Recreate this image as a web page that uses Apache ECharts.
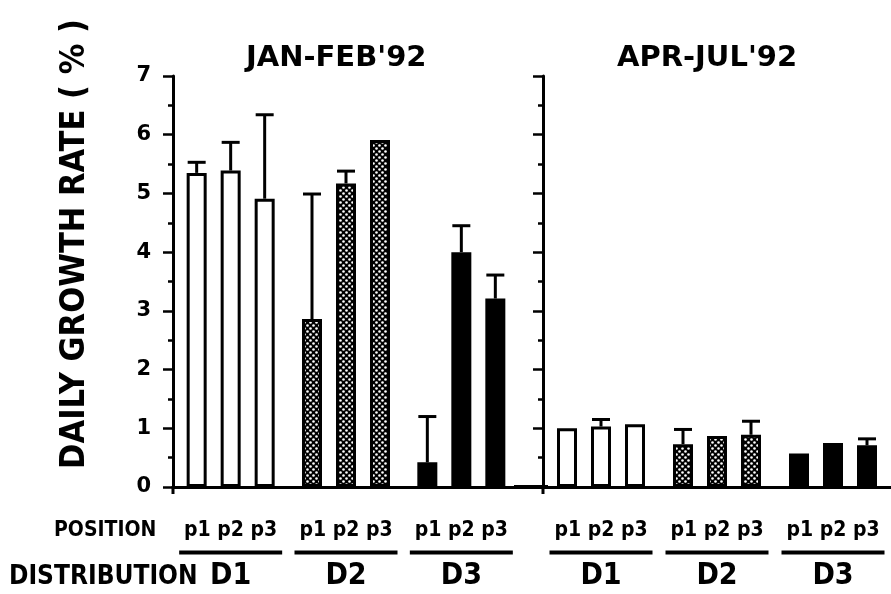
<!DOCTYPE html>
<html><head><meta charset="utf-8">
<script src="https://cdn.jsdelivr.net/npm/echarts@6/dist/echarts.min.js"></script>
<style>html,body{margin:0;padding:0;background:#fff}#c{width:891px;height:594px}</style>
</head><body><div id="c"></div>
<script>
// ---- data ----
const groups = ['D1', 'D2', 'D3'];
const positions = ['p1', 'p2', 'p3'];
const panelTitles = ["JAN-FEB'92", "APR-JUL'92"];
const yName = 'DAILY GROWTH RATE ( % )';
// JAN-FEB'92: values per position, indexed by distribution D1,D2,D3
const janP1 = [5.35, 2.86, 0.42];
const janP2 = [5.39, 5.17, 4.00];
const janP3 = [4.91, 5.91, 3.21];
const janP1Err = [0.18, 2.13, 0.78];
const janP2Err = [0.48, 0.21, 0.45];
const janP3Err = [1.43, 0, 0.40];
// APR-JUL'92
const aprP1 = [1.00, 0.73, 0.57];
const aprP2 = [1.03, 0.87, 0.75];
const aprP3 = [1.07, 0.89, 0.71];
const aprP1Err = [0, 0.25, 0];
const aprP2Err = [0.12, 0, 0];
const aprP3Err = [0, 0.23, 0.11];

// ---- styles ----
const FONT = 'DejaVu Sans';
const FONTC = 'DejaVu Sans Condensed';
const BAR_W = 20, BAR_GAP = 0.7;
function dotPattern() {
  const c = document.createElement('canvas');
  c.width = 6; c.height = 6;
  const g = c.getContext('2d');
  g.fillStyle = '#000'; g.fillRect(0, 0, 6, 6);
  g.fillStyle = '#fff';
  g.beginPath(); g.arc(1.5, 1.5, 1.3, 0, Math.PI * 2); g.fill();
  g.beginPath(); g.arc(4.5, 4.5, 1.3, 0, Math.PI * 2); g.fill();
  return c;
}
const fills = ['#ffffff', { image: dotPattern(), repeat: 'repeat' }, '#000000'];

const chart = echarts.init(document.getElementById('c'));

function barSeries(vals, gi) {
  return {
    type: 'bar', xAxisIndex: gi, yAxisIndex: gi,
    barWidth: BAR_W, barGap: (BAR_GAP * 100) + '%',
    data: vals.map((v, i) => ({ value: v, itemStyle: { color: fills[i], borderColor: '#000', borderWidth: 3 } })),
    animation: false, z: 2
  };
}
function errSeries(vals, errs, gi, pi) {
  return {
    type: 'custom', xAxisIndex: gi, yAxisIndex: gi, z: 3, animation: false,
    data: vals.map((v, i) => [i, v, errs[i]]),
    renderItem: function (params, api) {
      const e = api.value(2);
      if (!e) return;
      const v = api.value(1), cat = api.value(0);
      const p0 = api.coord([cat, v]);
      const p1 = api.coord([cat, v + e]);
      const x = p0[0] + (pi - 1) * BAR_W * (1 + BAR_GAP);
      const st = { stroke: '#000', lineWidth: 3 };
      return { type: 'group', children: [
        { type: 'line', shape: { x1: x, y1: p0[1], x2: x, y2: p1[1] }, style: st },
        { type: 'line', shape: { x1: x - 9, y1: p1[1], x2: x + 9, y2: p1[1] }, style: st }
      ] };
    }
  };
}

const xLabel = {
  margin: 32, interval: 0,
  formatter: v => '{p|' + positions.join(' ') + '}\n{u| }\n{d|' + v + '}',
  rich: {
    p: { fontFamily: FONTC, fontWeight: 'bold', fontSize: 21, lineHeight: 24, color: '#000' },
    u: { backgroundColor: '#000', width: 103, height: 4, lineHeight: 19 },
    d: { fontFamily: FONTC, fontWeight: 'bold', fontSize: 30, lineHeight: 29, color: '#000' }
  }
};
function xAxis(gi) {
  return {
    type: 'category', gridIndex: gi, data: groups,
    axisLine: { lineStyle: { color: '#000', width: 3 } },
    axisTick: { show: false },
    axisLabel: xLabel
  };
}
function yAxis(gi, showLabel) {
  return {
    type: 'value', gridIndex: gi, min: 0, max: 7, interval: 1,
    axisLine: { show: true, lineStyle: { color: '#000', width: 3 } },
    axisTick: { show: true, inside: false, length: 10, lineStyle: { width: 2.5, color: '#000' } },
    minorTick: { show: true, splitNumber: 2, length: 5, lineStyle: { width: 2.5, color: '#000' } },
    splitLine: { show: false },
    axisLabel: { show: showLabel, margin: 22, fontFamily: FONT, fontWeight: 'bold', fontSize: 21, color: '#000' }
  };
}

chart.setOption({
  backgroundColor: '#fff',
  animation: false,
  grid: [
    { left: 173, top: 76, width: 346, height: 411 },
    { left: 543, top: 76, width: 354, height: 411 }
  ],
  xAxis: [xAxis(0), xAxis(1)],
  yAxis: [yAxis(0, true), yAxis(1, false)],
  series: [
    barSeries(janP1, 0), barSeries(janP2, 0), barSeries(janP3, 0),
    barSeries(aprP1, 1), barSeries(aprP2, 1), barSeries(aprP3, 1),
    errSeries(janP1, janP1Err, 0, 0), errSeries(janP2, janP2Err, 0, 1), errSeries(janP3, janP3Err, 0, 2),
    errSeries(aprP1, aprP1Err, 1, 0), errSeries(aprP2, aprP2Err, 1, 1), errSeries(aprP3, aprP3Err, 1, 2)
  ],
  graphic: [
    { type: 'text', left: 246, top: 44, style: { text: panelTitles[0], font: 'bold 29px ' + FONT, fill: '#000' } },
    { type: 'text', left: 617, top: 44, style: { text: panelTitles[1], font: 'bold 29px ' + FONT, fill: '#000' } },
    { type: 'text', x: 75, y: 244, rotation: Math.PI / 2,
      style: { text: yName, font: 'bold 34px ' + FONTC, fill: '#000', align: 'center', verticalAlign: 'middle' } },
    { type: 'text', left: 54, top: 520, style: { text: 'POSITION', font: 'bold 21px ' + FONTC, fill: '#000' } },
    { type: 'text', left: 9, top: 564, style: { text: 'DISTRIBUTION', font: 'bold 26px ' + FONTC, fill: '#000' } },
    // baseline connector between panels and the small downward axis extensions
    { type: 'rect', z: 10, x: 514, y: 485, shape: { x: 0, y: 0, width: 34, height: 4 }, style: { fill: '#000', stroke: '#000', lineWidth: 0 } },
    { type: 'rect', z: 10, x: 171.5, y: 486, shape: { x: 0, y: 0, width: 3, height: 8 }, style: { fill: '#000' } },
    { type: 'rect', z: 10, x: 541.5, y: 486, shape: { x: 0, y: 0, width: 3, height: 8 }, style: { fill: '#000' } }
  ]
});
</script></body></html>
